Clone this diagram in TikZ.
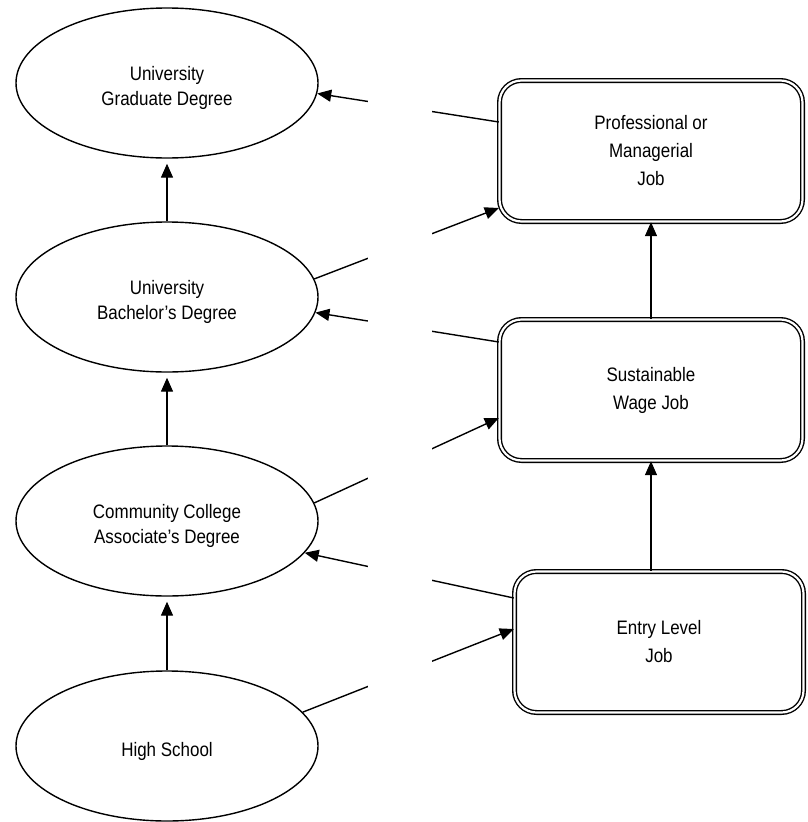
\documentclass[tikz,border=0pt]{standalone}
\usepackage{fontspec}
\setmainfont{Liberation Sans}[FakeStretch=0.87]
\usepackage{tikz}
\usetikzlibrary{arrows.meta,shapes.geometric}
\newcommand{\degtext}[1]{\raisebox{-5pt}[\height][\depth]{\begin{tabular}{@{}c@{}}#1\end{tabular}}}

\begin{document}
\begin{tikzpicture}[x=1pt, y=-1pt, ->, >={Triangle[length=14pt,width=12pt]}, line width=1.4pt]
	\tikzstyle{degree}=[ellipse,draw=black,fill=white,inner sep=0pt,minimum width=302pt,minimum height=150pt,font=\fontsize{19.5}{25}\selectfont]
	\tikzstyle{job}=[rectangle,draw=black,double,double distance=2.2pt,rounded corners=22pt,fill=white,align=center,minimum height=141pt,font=\fontsize{19.5}{28}\selectfont]
	\useasboundingbox (0,0) rectangle (807,822);
	\node[degree]    (grad)   at (167,83)    {\degtext{University\\Graduate Degree}};
	\node[degree]    (bach)   at (167,297)   {\degtext{University\\Bachelor's Degree}};
	\node[degree]    (assoc)  at (167,521)   {\degtext{Community College\\Associate's Degree}};
	\node[degree]    (hs)     at (167,746)   {\degtext{High School}};
	\node[job,minimum width=303pt]   (prof)   at (651,151)   {Professional or\\Managerial\\Job};
	\node[job,minimum width=303pt]   (wage)   at (651,390)   {Sustainable\\Wage Job};
	\node[job,minimum width=289pt]   (entry)  at (659,642)   {Entry Level\\Job};
	\path[shorten >=5pt]
	(hs) edge (assoc)
	(assoc) edge (bach)
	(bach) edge (grad);
	\path
	(entry.north -| wage.south) edge (wage)
	(wage) edge (prof)
	(hs.14) edge ([yshift=13pt]entry.west)
	([yshift=44pt]entry.west) edge (assoc.-13)
	(assoc.7) edge ([yshift=-28pt]wage.west)
	([yshift=48pt]wage.west) edge (bach.-6)
	(bach.7.5) edge ([yshift=-57pt]prof.west)
	([yshift=29pt]prof.west) edge (grad.-4.5);
	% blank band between the two columns
	\fill[white] (368,0) rectangle (432,822);
\end{tikzpicture}
\end{document}
